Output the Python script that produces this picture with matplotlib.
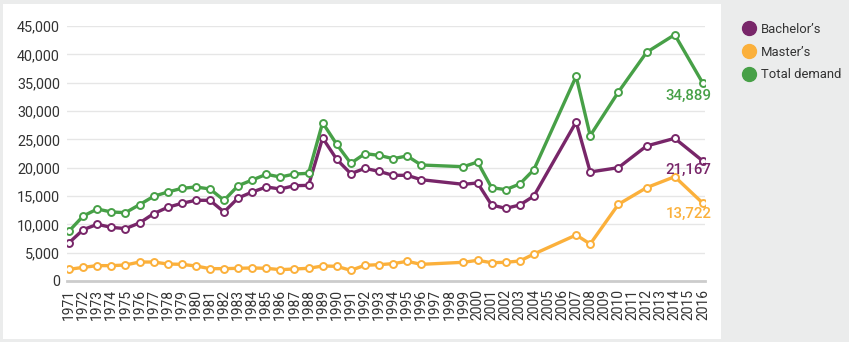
import matplotlib.pyplot as plt
from matplotlib.patches import Rectangle
from matplotlib.lines import Line2D

plt.rcParams["font.family"] = ["Roboto", "DejaVu Sans"]

years = list(range(1971, 1997)) + [1999, 2000, 2001, 2002, 2003, 2004,
                                   2007, 2008, 2010, 2012, 2014, 2016]
bachelors = [6760, 9060, 10000, 9470, 9240, 10240, 11880, 13000, 13710, 14240,
             14240, 12180, 14650, 15700, 16590, 16240, 16820, 16880, 25240, 21470,
             18940, 19880, 19350, 18650, 18650, 17880,
             17060, 17300, 13410, 12820, 13410, 15000,
             28060, 19240, 20000, 23830, 25180, 21167]
masters = [2060, 2410, 2710, 2710, 2820, 3350, 3350, 3000, 2940, 2650,
           2180, 2180, 2240, 2300, 2240, 2000, 2120, 2240, 2650, 2590,
           1880, 2770, 2880, 3060, 3470, 2940,
           3300, 3650, 3230, 3300, 3530, 4760,
           8120, 6530, 13530, 16470, 18410, 13722]
total = [8820, 11470, 12700, 12180, 12060, 13470, 14940, 15700, 16350, 16590,
         16240, 14240, 16820, 17820, 18830, 18350, 18880, 19000, 27940, 24120,
         20770, 22470, 22180, 21590, 22060, 20470,
         20170, 21000, 16470, 16120, 17120, 19650,
         36120, 25650, 33350, 40350, 43470, 34889]

series = [("Bachelor\u2019s", bachelors, "#782669"),
          ("Master\u2019s", masters, "#fbb03b"),
          ("Total demand", total, "#47a047")]

fig = plt.figure(figsize=(8.49, 3.42), dpi=100)
fig.patch.set_facecolor("#ebecec")
fig.patches.append(Rectangle((3 / 849, 3 / 342), 718 / 849, 335 / 342,
                             transform=fig.transFigure, facecolor="white",
                             edgecolor="none", zorder=-5))

ax = fig.add_axes([67 / 849, 61 / 342, 638 / 849, 255 / 342])
ax.set_zorder(2)
ax.set_facecolor("none")

for name, vals, color in series:
    ax.plot(years, vals, color=color, lw=2.4, marker="o", ms=5,
            mfc="white", mec=color, mew=1.4, zorder=3, solid_joinstyle="round")

ax.set_xlim(1970.85, 2016.15)
ax.set_ylim(0, 45000)
ax.set_yticks(range(0, 45001, 5000))
ax.set_yticklabels([f"{v:,}" for v in range(0, 45001, 5000)])
ax.set_xticks(range(1971, 2017))
ax.set_xticklabels([str(y) for y in range(1971, 2017)], rotation=90)
ax.tick_params(axis="y", length=0, pad=5, labelsize=10.4, labelcolor="#333333")
ax.tick_params(axis="x", length=0, pad=6, labelsize=10, labelcolor="#333333")
ax.grid(axis="y", color="#e6e6e6", lw=1, zorder=0)
for s in ["top", "right", "left"]:
    ax.spines[s].set_visible(False)
ax.spines["bottom"].set_color("#cccccc")
ax.spines["bottom"].set_linewidth(2)

# end labels
ends = [(total[-1], "#47a047", -4), (bachelors[-1], "#782669", -1),
        (masters[-1], "#fbb03b", -3)]
for val, color, dy in ends:
    ax.annotate(f"{val:,}", (years[-1], val), xytext=(6, dy),
                textcoords="offset points", ha="right", va="top",
                color=color, fontsize=10.8, fontweight="medium")

handles = [Line2D([], [], ls="none", marker="o", ms=10, color=c) for _, _, c in series]
fig.legend(handles, [n for n, _, _ in series], loc="upper left",
           bbox_to_anchor=(736 / 849, 1 - 17.5 / 342), frameon=False,
           fontsize=9.4, labelcolor="#333333", handletextpad=0.3,
           labelspacing=0.75, handlelength=1.2, borderaxespad=0)

fig.savefig("out.png", dpi=100, facecolor=fig.get_facecolor())
